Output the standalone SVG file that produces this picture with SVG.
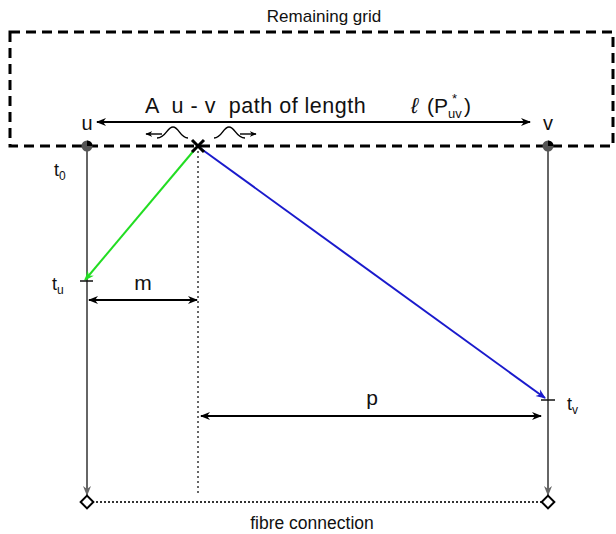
<svg xmlns="http://www.w3.org/2000/svg" width="616" height="534" viewBox="0 0 616 534">
<style>
text{font-family:"Liberation Sans",Arial,sans-serif;fill:#111}
.time{stroke:#666;stroke-width:2;fill:none}
.blk{stroke:#000;stroke-width:2;fill:none}
.thin{stroke:#000;stroke-width:1.4;fill:none}
</style>
<defs>
<marker id="ah" viewBox="0 0 10 10" refX="9" refY="5" markerWidth="5" markerHeight="5" orient="auto-start-reverse"><path d="M0,1 L10,5 L0,9 L3,5 Z" fill="#000"/></marker>
<marker id="ahs" viewBox="0 0 10 10" refX="9" refY="5" markerWidth="5" markerHeight="5" orient="auto-start-reverse"><path d="M0,1 L10,5 L0,9 L3,5 Z" fill="#000"/></marker>
<marker id="ag" viewBox="0 0 10 10" refX="9" refY="5" markerWidth="5" markerHeight="5" orient="auto"><path d="M0,1 L10,5 L0,9 L3,5 Z" fill="#666"/></marker>
<marker id="agr" viewBox="0 0 10 10" refX="9" refY="5" markerWidth="5" markerHeight="5" orient="auto"><path d="M0,1 L10,5 L0,9 L3,5 Z" fill="#22dd22"/></marker>
<marker id="abl" viewBox="0 0 10 10" refX="9" refY="5" markerWidth="5" markerHeight="5" orient="auto"><path d="M0,1 L10,5 L0,9 L3,5 Z" fill="#1a1acc"/></marker>
</defs>

<g id="grid">
<rect x="10" y="32" width="603" height="114" fill="none" stroke="#000" stroke-width="3" stroke-dasharray="10,6"/>
<text x="324" y="22" font-size="17" text-anchor="middle">Remaining grid</text>
</g>

<g id="connectors">
<line class="time" x1="87" y1="146" x2="87" y2="495" marker-end="url(#ag)"/>
<line class="time" x1="548" y1="146" x2="548" y2="495" marker-end="url(#ag)"/>
<line x1="198" y1="146" x2="198" y2="495" stroke="#666" stroke-width="2" stroke-dasharray="2,3"/>
<line x1="92" y1="502" x2="543" y2="502" stroke="#333" stroke-width="2" stroke-dasharray="2,2"/>
<line class="blk" x1="97" y1="122" x2="530" y2="122" marker-start="url(#ah)" marker-end="url(#ah)"/>
<line x1="196" y1="148" x2="85" y2="280" stroke="#22dd22" stroke-width="2" marker-end="url(#agr)"/>
<line x1="200" y1="148" x2="545" y2="398" stroke="#1a1acc" stroke-width="2" marker-end="url(#abl)"/>
<line class="blk" x1="89" y1="300" x2="197" y2="300" marker-start="url(#ah)" marker-end="url(#ah)"/>
<line class="blk" x1="201" y1="416" x2="541" y2="416" marker-start="url(#ah)" marker-end="url(#ah)"/>
<line x1="80" y1="281" x2="93" y2="281" stroke="#111" stroke-width="1.5"/>
<line x1="541" y1="400" x2="555" y2="400" stroke="#111" stroke-width="1.5"/>
<path class="thin" d="M188,138 C180,138 179,127 173,127 C167,127 166,138 157,138"/>
<line class="thin" x1="162" y1="134" x2="146" y2="134" marker-end="url(#ahs)"/>
<path class="thin" d="M214,138 C222,138 223,127 229,127 C235,127 236,138 245,138"/>
<line class="thin" x1="240" y1="134" x2="256" y2="134" marker-end="url(#ahs)"/>
<path d="M192,140 L204,152 M204,140 L192,152" stroke="#000" stroke-width="3"/>
</g>

<g id="u">
<circle cx="87" cy="146" r="5.5" fill="#555"/>
<path d="M87,146 L87,140.5 A5.5,5.5 0 0 1 92.5,146 Z" fill="#000"/>
<text x="87" y="130" font-size="20" text-anchor="middle">u</text>
<text x="54" y="176" font-size="18">t<tspan font-size="12" dy="4">0</tspan></text>
<text x="52" y="290" font-size="18">t<tspan font-size="12" dy="4">u</tspan></text>
</g>

<g id="v">
<circle cx="548" cy="146" r="5.5" fill="#555"/>
<path d="M548,146 L548,140.5 A5.5,5.5 0 0 1 553.5,146 Z" fill="#000"/>
<text x="548" y="130" font-size="20" text-anchor="middle">v</text>
<text x="567" y="410" font-size="18">t<tspan font-size="12" dy="4">v</tspan></text>
</g>

<g id="path-label">
<text x="145" y="113" font-size="21.5" letter-spacing="0.5" xml:space="preserve">A  u - v  path of length</text>
<text x="411" y="113" font-size="22" font-style="italic">ℓ</text>
<text x="427" y="113" font-size="21">(P</text>
<text x="448" y="118" font-size="13">uv</text>
<text x="452" y="103" font-size="13">*</text>
<text x="464" y="113" font-size="21">)</text>
</g>

<g id="m"><text x="143" y="290" font-size="21" text-anchor="middle">m</text></g>
<g id="p"><text x="372" y="405" font-size="21" text-anchor="middle">p</text></g>

<g id="fibre">
<rect x="82.5" y="497.5" width="9" height="9" transform="rotate(45 87 502)" fill="#fff" stroke="#000" stroke-width="2"/>
<rect x="543.5" y="497.5" width="9" height="9" transform="rotate(45 548 502)" fill="#fff" stroke="#000" stroke-width="2"/>
<text x="312" y="529" font-size="17.5" text-anchor="middle">fibre connection</text>
</g>
</svg>
